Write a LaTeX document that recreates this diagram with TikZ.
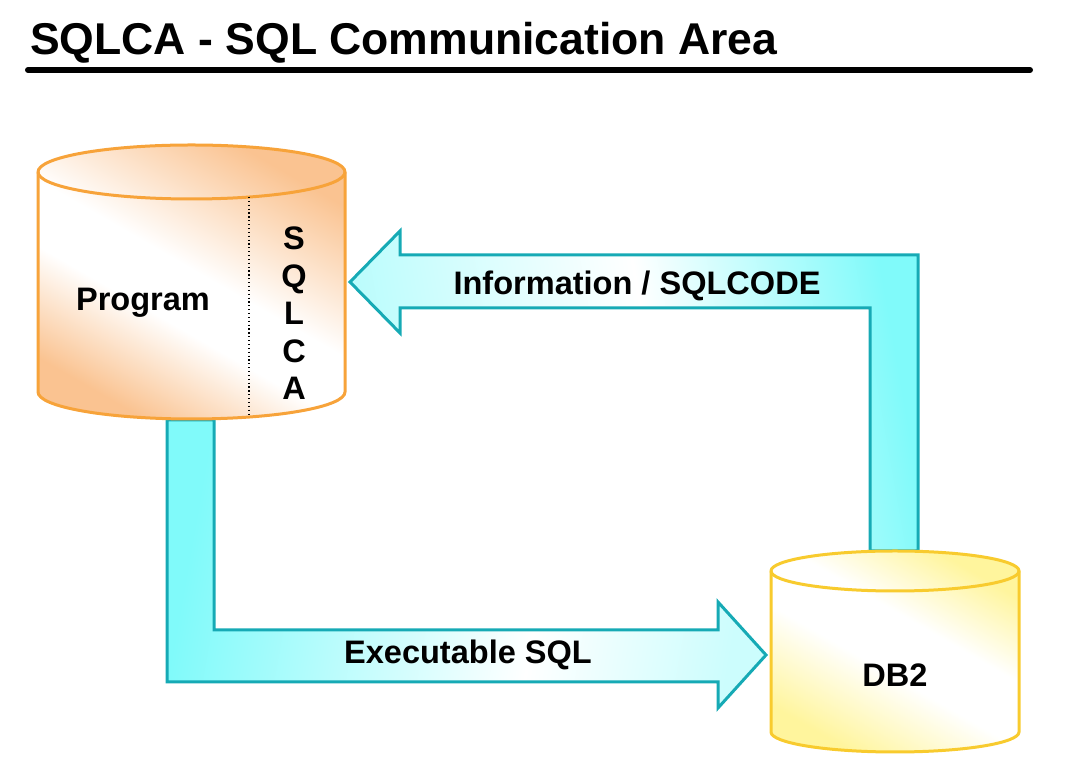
\documentclass[tikz,border=0pt]{standalone}
\usepackage{fontspec}
\setmainfont{Liberation Sans}
\definecolor{progline}{HTML}{F7A33A}
\definecolor{progfill}{HTML}{FAC391}
\definecolor{dbline}{HTML}{F8CB2E}
\definecolor{dbfill}{HTML}{FFF59D}
\definecolor{arrline}{HTML}{16AAB5}
\definecolor{arrfill}{HTML}{80FAFA}
\pgfdeclarehorizontalshading{progshade}{100bp}{color(0bp)=(progfill); color(25bp)=(progfill); color(42bp)=(white); color(52bp)=(white); color(75bp)=(progfill); color(100bp)=(progfill)}
\pgfdeclarehorizontalshading{dbshade}{100bp}{color(0bp)=(dbfill); color(25bp)=(dbfill); color(45bp)=(white); color(58bp)=(white); color(75bp)=(dbfill); color(100bp)=(dbfill)}
\pgfdeclarehorizontalshading{infoshade}{100bp}{color(0bp)=(arrfill!55); color(25bp)=(arrfill!55); color(52bp)=(white); color(75bp)=(arrfill); color(100bp)=(arrfill)}
\pgfdeclarehorizontalshading{execshade}{100bp}{color(0bp)=(arrfill); color(25bp)=(arrfill); color(57bp)=(white); color(75bp)=(arrfill!40); color(100bp)=(arrfill!40)}
\begin{document}
\begin{tikzpicture}[x=0.75pt,y=0.75pt,
  lbl/.style={font=\fontsize{24.4}{29}\selectfont\bfseries, inner sep=0, anchor=base},
  blockarrow/.style={draw=arrline, line width=2.25pt, line join=miter},
  progcyl/.style={draw=progline, line width=2.25pt},
  dbcyl/.style={draw=dbline, line width=2.25pt}]
\useasboundingbox (0,0) rectangle (1072,778);

% title
\node[anchor=base west, inner sep=0, font=\fontsize{33.4}{40}\selectfont\bfseries] (title) at (30,723) {SQLCA - SQL Communication Area};
\coordinate (ruleL) at (28,708);
\coordinate (ruleR) at (1030,708);
\draw[line width=4.5pt, line cap=round] (ruleL) -- (ruleR);

% arrows
\draw[blockarrow, shading=infoshade, shading angle=10]
  (350,496) -- (400,547) -- (400,523) -- (918,523) -- (918,227) -- (870,227)
  -- (870,470) -- (400,470) -- (400,445) -- cycle;
\draw[blockarrow, shading=execshade, shading angle=-10]
  (167,358) -- (214,358) -- (214,148) -- (718,148) -- (718,176) -- (766,123)
  -- (718,70) -- (718,96) -- (167,96) -- cycle;

% Program cylinder
\draw[progcyl, shading=progshade, shading angle=60]
  (38,606) -- (38,386) arc[start angle=180, end angle=360, x radius=153.5, y radius=27]
  -- (345,606) arc[start angle=0, end angle=180, x radius=153.5, y radius=27] -- cycle;
\draw[progcyl] (38,606) arc[start angle=180, end angle=360, x radius=153.5, y radius=27];
\draw[dotted, line width=0.9pt] (249,581) -- (249,361);

% DB2 cylinder
\draw[dbcyl, shading=dbshade, shading angle=60]
  (771,207) -- (771,46) arc[start angle=180, end angle=360, x radius=124, y radius=20]
  -- (1019,207) arc[start angle=0, end angle=180, x radius=124, y radius=20] -- cycle;
\draw[dbcyl] (771,207) arc[start angle=180, end angle=360, x radius=124, y radius=20];

% labels
\node[lbl] (program) at (143,467) {Program};
\foreach \c/\yy [count=\i] in {S/528,Q/490.5,L/453,C/415.5,A/378}
  \node[lbl] (sq\i) at (294,\yy) {\c};
\node[lbl] (info) at (637,483) {Information / SQLCODE};
\node[lbl] (exec) at (468,114) {Executable SQL};
\node[lbl] (db2) at (895,91) {DB2};
\end{tikzpicture}
\end{document}
